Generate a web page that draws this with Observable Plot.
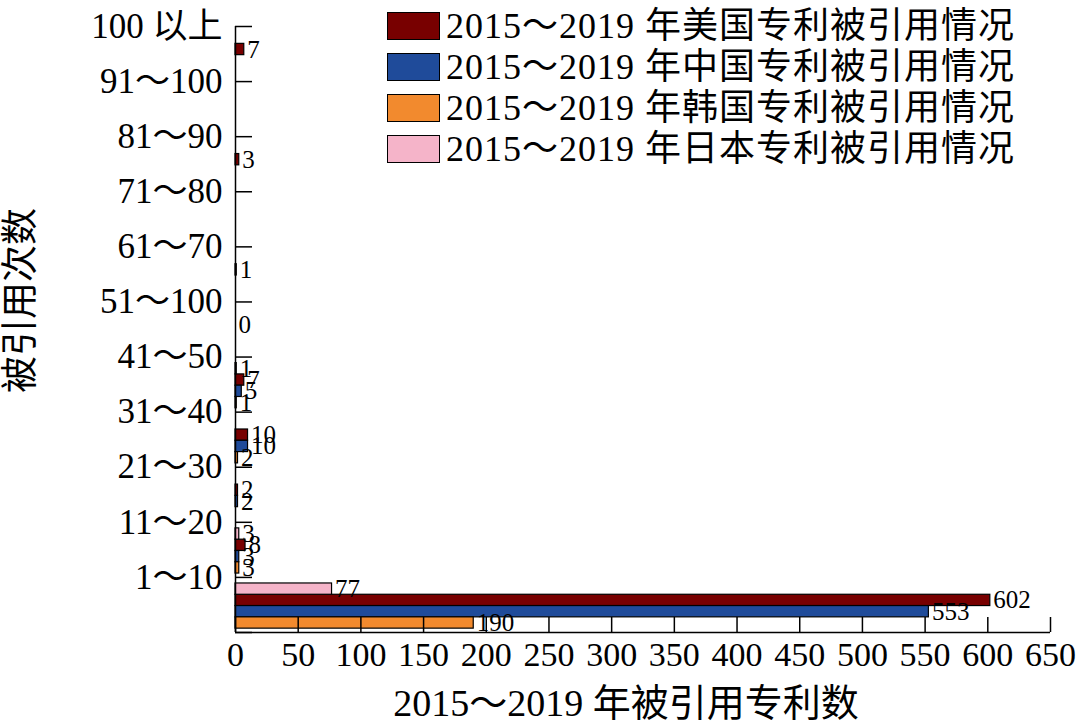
<!DOCTYPE html>
<html><head><meta charset="utf-8">
<script src="https://cdn.jsdelivr.net/npm/d3@7"></script>
<script src="https://cdn.jsdelivr.net/npm/@observablehq/plot@0.6"></script>
<style>
body{margin:0;background:#fff;}
#wrap{position:relative;width:1080px;height:725px;font-family:"Liberation Serif","Noto Sans CJK SC",serif;}
#legend{position:absolute;left:387px;top:5px;}
.row{display:flex;align-items:center;height:41px;}
.sw{width:53px;height:28px;border:1.5px solid #000;box-sizing:border-box;margin-right:6px;flex:none;}
.lt{font-size:36px;letter-spacing:1px;line-height:1;white-space:nowrap;}
</style></head><body><div id="wrap"></div>
<script>
const categories = ["100 以上","91～100","81～90","71～80","61～70","51～100","41～50","31～40","21～30","11～20","1～10"];
const seriesNames = ["2015～2019 年美国专利被引用情况","2015～2019 年中国专利被引用情况","2015～2019 年韩国专利被引用情况","2015～2019 年日本专利被引用情况"];
const seriesColors = ["#780000","#1f4b9a","#f28a2e","#f5b4c9"];
const usValues = [7, null, 3, null, 1, 0, 7, 10, 2, 8, 602];
const cnValues = [null, null, null, null, null, null, 5, 10, 2, 3, 553];
const krValues = [null, null, null, null, null, null, 1, 2, null, 3, 190];
const jpValues = [null, null, null, null, null, null, 1, null, null, 3, 77];
const xTicks = [0,50,100,150,200,250,300,350,400,450,500,550,600,650];
const xTitle = "2015～2019 年被引用专利数";
const yTitle = "被引用次数";

// slot order inside each category cluster (top to bottom): Japan, US, China, Korea
const seriesValues = [usValues, cnValues, krValues, jpValues];
const slotOf = [1, 2, 3, 0];
const clusterStart = 0.11, slotSize = 0.205;

const rows = [];
seriesValues.forEach((vals, s) => {
  vals.forEach((v, i) => {
    if (v === null) return;
    const y1 = i + clusterStart + slotOf[s] * slotSize;
    rows.push({series: seriesNames[s], color: seriesColors[s], value: v, y1, y2: y1 + slotSize, ym: y1 + slotSize / 2});
  });
});

const font = '"Liberation Serif","Noto Sans CJK SC",serif';
const chart = Plot.plot({
  width: 1080, height: 725,
  marginLeft: 235, marginRight: 30, marginTop: 26, marginBottom: 93,
  style: {fontFamily: font, fontSize: "34px", color: "#000", background: "#fff", overflow: "visible"},
  x: {domain: [0, 650]},
  y: {domain: [0, 11], reverse: true},
  color: {type: "identity"},
  marks: [
    Plot.rectX(rows, {x1: 0, x2: "value", y1: "y1", y2: "y2", fill: "color", stroke: "#000", strokeWidth: 1.2}),
    Plot.text(rows, {x: "value", y: "ym", text: d => String(d.value), textAnchor: "start", dx: 3, fontSize: 25}),
    Plot.ruleX([0], {stroke: "#000", strokeWidth: 1.5}),
    Plot.ruleY([11], {stroke: "#000", strokeWidth: 1.5}),
    Plot.axisY(d3.range(0, 12), {anchor: "left", tickSize: 17, dx: 17, tickFormat: () => "", label: null, strokeWidth: 1.5}),
    Plot.axisY(d3.range(0, 11), {anchor: "left", tickSize: 0, tickPadding: 13, tickFormat: i => categories[i], fontSize: 35, label: null}),
    Plot.axisX(xTicks, {anchor: "bottom", tickSize: 15, dy: -15, tickFormat: () => "", label: null, strokeWidth: 1.5}),
    Plot.axisX(xTicks, {anchor: "bottom", tickSize: 0, tickPadding: 9, fontSize: 34, label: null}),
    Plot.text([xTitle], {frameAnchor: "bottom", lineAnchor: "middle", dy: 71, dx: -17, fontSize: 38}),
    Plot.text([yTitle], {frameAnchor: "left", textAnchor: "middle", lineAnchor: "middle", dx: -214, dy: -29, rotate: -90, fontSize: 37})
  ]
});
const wrap = document.getElementById("wrap");
wrap.appendChild(chart);
const legend = document.createElement("div");
legend.id = "legend";
seriesNames.forEach((n, s) => {
  const r = document.createElement("div"); r.className = "row";
  const sw = document.createElement("div"); sw.className = "sw"; sw.style.background = seriesColors[s];
  const t = document.createElement("span"); t.className = "lt"; t.textContent = n;
  r.appendChild(sw); r.appendChild(t); legend.appendChild(r);
});
wrap.appendChild(legend);
</script></body></html>
